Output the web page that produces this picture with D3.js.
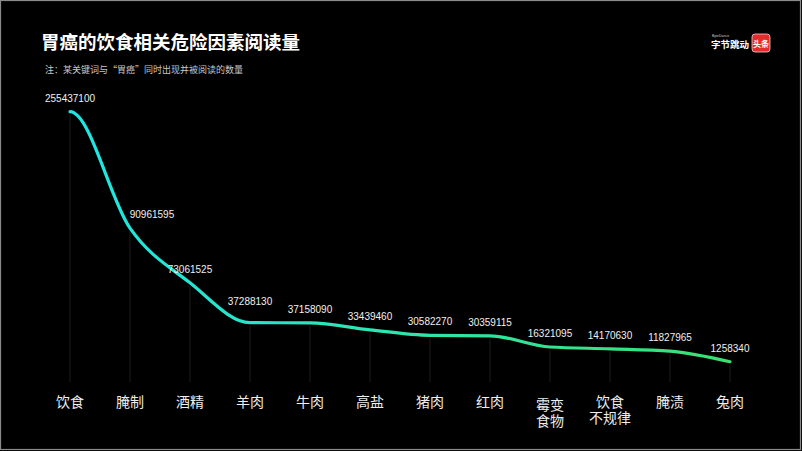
<!DOCTYPE html>
<html><head><meta charset="utf-8">
<script src="https://cdn.jsdelivr.net/npm/d3@7"></script>
<style>html,body{margin:0;padding:0;background:#000;}svg{display:block;}</style>
</head><body>
<svg id="c" width="802" height="451"></svg>
<script>
const categories = ["饮食","腌制","酒精","羊肉","牛肉","高盐","猪肉","红肉","霉变\n食物","饮食\n不规律","腌渍","兔肉"];
const values = [255437100, 90961595, 73061525, 37288130, 37158090, 33439460, 30582270, 30359115, 16321095, 14170630, 11827965, 1258340];
const yBreaks = [0, 15e6, 30e6, 37e6, 73e6, 91e6, 255e6];
const title = "胃癌的饮食相关危险因素阅读量";
const subtitle = "注：某关键词与“胃癌”同时出现并被阅读的数量";

const svg = d3.select("#c");
const W = 802, H = 451;
svg.append("rect").attr("x",0).attr("y",0).attr("width",W).attr("height",H).attr("fill","#000");
svg.append("rect").attr("x",0.5).attr("y",0.5).attr("width",W-2).attr("height",H-2)
  .attr("fill","none").attr("stroke","#8a8a8a").attr("stroke-width",1.2);

const x = d3.scalePoint().domain(categories).range([70,730]);
// piecewise (broken) vertical scale as drawn in the original infographic
const y = d3.scaleLinear().domain(yBreaks).range([363,348,336.5,323,283,228,112]);
const baseY = 382;

const data = categories.map((c,i)=>({c, v: values[i]}));

// custom smooth curve: cubic Hermite, monotone interior tangents, flat start
function curveSmoothFlatStart(context){
  let pts = [];
  return {
    areaStart(){}, areaEnd(){},
    lineStart(){ pts = []; },
    point(px,py){ pts.push([+px,+py]); },
    lineEnd(){
      const n = pts.length;
      if (!n) return;
      context.moveTo(pts[0][0], pts[0][1]);
      if (n === 1) return;
      const s = [];
      for (let i=0;i<n-1;i++) s.push((pts[i+1][1]-pts[i][1])/(pts[i+1][0]-pts[i][0]));
      const t = new Array(n).fill(0);
      for (let i=1;i<n-1;i++){
        const h0 = pts[i][0]-pts[i-1][0], h1 = pts[i+1][0]-pts[i][0];
        const p = (s[i-1]*h1 + s[i]*h0)/(h0+h1);
        t[i] = (Math.sign(s[i-1])+Math.sign(s[i])) * Math.min(Math.abs(s[i-1]),Math.abs(s[i]),0.5*Math.abs(p)) || 0;
      }
      t[0] = 0;
      t[n-1] = n>2 ? (3*s[n-2]-t[n-2])/2 : s[0];
      for (let i=0;i<n-1;i++){
        const [x0,y0] = pts[i], [x1,y1] = pts[i+1];
        const dx = (x1-x0)/3;
        context.bezierCurveTo(x0+dx, y0+dx*t[i], x1-dx, y1-dx*t[i+1], x1, y1);
      }
    }
  };
}

// drop lines
svg.append("g").selectAll("line").data(data).join("line")
  .attr("x1",d=>x(d.c)).attr("x2",d=>x(d.c))
  .attr("y1",d=>y(d.v)+3).attr("y2",baseY)
  .attr("stroke","#1c1c1c").attr("stroke-width",1);

// gradient
const defs = svg.append("defs");
const grad = defs.append("linearGradient").attr("id","lg")
  .attr("gradientUnits","userSpaceOnUse").attr("x1",70).attr("x2",730).attr("y1",0).attr("y2",0);
grad.append("stop").attr("offset","0%").attr("stop-color","#1ee6e6");
grad.append("stop").attr("offset","45%").attr("stop-color","#2ce6b4");
grad.append("stop").attr("offset","100%").attr("stop-color","#3ae070");

const line = d3.line().x(d=>x(d.c)).y(d=>y(d.v)).curve(curveSmoothFlatStart);
svg.append("path").datum(data).attr("d",line)
  .attr("fill","none").attr("stroke","url(#lg)").attr("stroke-width",3.2)
  .attr("stroke-linecap","round");

// value labels
const nudge = {"腌制":{dx:22,dy:0},"羊肉":{dx:0,dy:-8}};
svg.append("g").selectAll("text").data(data).join("text")
  .attr("x",d=>x(d.c)+((nudge[d.c]||{}).dx||0))
  .attr("y",d=>y(d.v)-10+((nudge[d.c]||{}).dy||0))
  .attr("text-anchor","middle")
  .attr("font-family","Liberation Sans, Arial, sans-serif")
  .attr("font-size",10).attr("fill","#f0f0f0")
  .text(d=>d.v);

// category labels
const cl = svg.append("g").selectAll("text").data(data).join("text")
  .attr("x",d=>x(d.c)).attr("y",407)
  .attr("text-anchor","middle")
  .attr("font-family","Noto Sans CJK SC, sans-serif")
  .attr("font-size",14).attr("fill","#eeeeee");
cl.each(function(d){
  const parts = d.c.split("\n");
  const t = d3.select(this);
  parts.forEach((p,i)=>{
    t.append("tspan").attr("x",x(d.c)).attr("dy", i===0 ? (parts.length>1 && d.c.startsWith("霉") ? 3 : 0) : 16).text(p);
  });
});

// title
svg.append("text").attr("x",41).attr("y",49)
  .attr("font-family","Noto Sans CJK SC, sans-serif").attr("font-weight","bold")
  .attr("font-size",18.5).attr("fill","#ffffff").text(title);
svg.append("text").attr("x",45).attr("y",73)
  .attr("font-family","Noto Sans CJK SC, sans-serif")
  .attr("font-size",9).attr("fill","#c8c8c8").text(subtitle);

// logo
const lg = svg.append("g");
lg.append("text").attr("x",712).attr("y",37).attr("font-family","Liberation Sans, Arial, sans-serif")
  .attr("font-size",3.5).attr("fill","#cccccc").text("ByteDance");
lg.append("text").attr("x",711).attr("y",48).attr("font-family","Noto Sans CJK SC, sans-serif")
  .attr("font-weight","bold").attr("font-size",9.5).attr("fill","#ffffff").text("字节跳动");
lg.append("rect").attr("x",752).attr("y",34).attr("width",18).attr("height",18).attr("rx",3)
  .attr("fill","#e42a2a").attr("stroke","#f2d0d0").attr("stroke-width",0.8);
lg.append("text").attr("x",761).attr("y",46.5).attr("text-anchor","middle")
  .attr("font-family","Noto Sans CJK SC, sans-serif").attr("font-weight","bold")
  .attr("font-size",8).attr("fill","#ffffff").text("头条");
</script>
</body></html>
